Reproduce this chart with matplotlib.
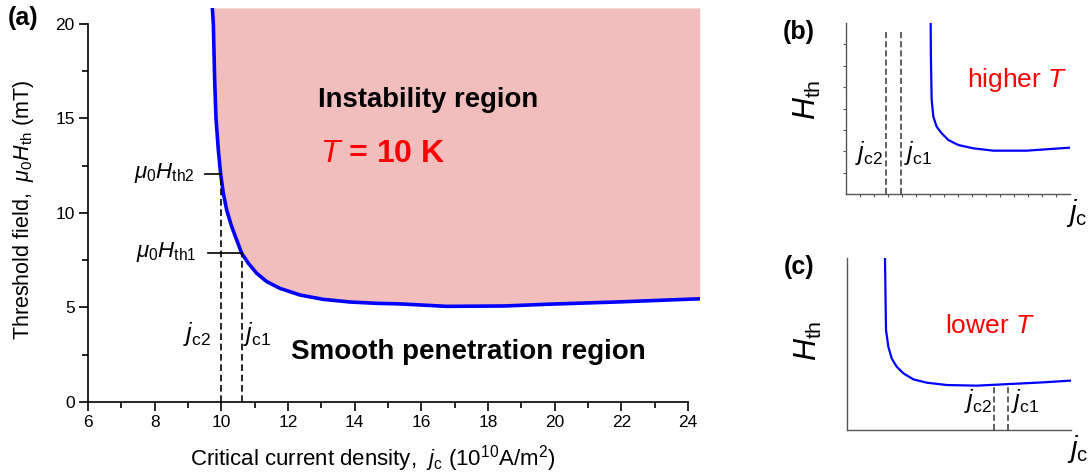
import numpy as np
import matplotlib.pyplot as plt

plt.rcParams['font.family'] = ['Liberation Sans', 'DejaVu Sans']
plt.rcParams['mathtext.fontset'] = 'custom'
plt.rcParams['mathtext.rm'] = 'Liberation Sans'
plt.rcParams['mathtext.it'] = 'Liberation Sans:italic'
plt.rcParams['mathtext.bf'] = 'Liberation Sans:bold'

# panel (a): threshold field vs critical current density, T = 10 K
jc_a = [9.73, 9.76, 9.80, 9.84, 9.91, 9.98, 10.06, 10.16, 10.31, 10.48, 10.61,
        10.81, 11.06, 11.36, 11.76, 12.36, 13.06, 13.86, 14.66, 15.36, 16.76,
        18.5, 19.76, 22.0, 24.35]
hth_a = [20.85, 20.0, 17.0, 15.0, 13.33, 12.05, 11.04, 10.16, 9.28, 8.48, 7.87,
         7.34, 6.81, 6.37, 6.01, 5.66, 5.43, 5.29, 5.22, 5.19, 5.06,
         5.08, 5.17, 5.3, 5.46]
jc_marks = [10.0, 10.61]        # jc2, jc1
hth_marks = [12.05, 7.87]       # Hth2, Hth1
mark_start = [9.51, 9.61]

# panel (b): higher T (normalised axes)
jc_b = [0.378, 0.379, 0.3824, 0.3899, 0.4048, 0.4271, 0.4568, 0.5015, 0.5685,
        0.6577, 0.8065, 1.0]
h_b = [1.0, 0.8, 0.5497, 0.452, 0.3936, 0.355, 0.3158, 0.2865, 0.267,
       0.2534, 0.2534, 0.271]
jc_marks_b = [0.177, 0.244]
top_marks_b = [0.959, 0.945]

# panel (c): lower T
jc_c = [0.1696, 0.1741, 0.1845, 0.1994, 0.2217, 0.2515, 0.2961, 0.3557, 0.4449,
        0.5789, 0.7277, 0.8765, 0.9955]
h_c = [0.998, 0.5814, 0.4845, 0.4167, 0.3682, 0.3295, 0.2946, 0.2752, 0.2616,
       0.2578, 0.2674, 0.2771, 0.2868]
jc_marks_c = [0.658, 0.72]
top_marks_c = [0.262, 0.27]

YTOP = 20.85
fig = plt.figure(figsize=(10.91, 4.76), dpi=100)

# ---- (a)
ax = fig.add_axes([88/1091, 74/476, 611.7/1091, 394.1/476])
ax.fill_between(jc_a, hth_a, YTOP, color='#F2BDBD', lw=0)
ax.plot(jc_a, hth_a, color='#0000FF', lw=2.6, solid_capstyle='round', solid_joinstyle='round')
for x, h, x0 in zip(jc_marks, hth_marks, mark_start):
    ax.plot([x, x], [0, h], color='black', lw=1.2, ls=(0, (4, 2.2)))
    ax.plot([x0, x], [h, h], color='black', lw=1.2)
ax.set_xlim(6, 24.35)
ax.set_ylim(0, YTOP)
for s in ['top', 'right']:
    ax.spines[s].set_visible(False)
ax.spines['left'].set_bounds(0, 20)
ax.spines['bottom'].set_bounds(6, 24)
for s in ['left', 'bottom']:
    ax.spines[s].set_linewidth(1.2)
ax.set_xticks(np.arange(6, 25, 2))
ax.set_xticks(np.arange(7, 24, 2), minor=True)
ax.set_yticks(np.arange(0, 21, 5))
ax.set_yticks(np.arange(2.5, 20, 5), minor=True)
ax.tick_params(which='major', direction='out', length=6.5, width=1.2, labelsize=12.5, pad=3)
ax.tick_params(which='minor', direction='out', length=4, width=1.2)
ax.set_xlabel(r'Critical current density,  $j_{\rm c}$ (10$^{10}$A/m$^2$)', fontsize=16)
ax.xaxis.set_label_coords(0.466, -0.105)
ax.set_ylabel(r'Threshold field,  $\mu_0H_{\rm th}$ (mT)', fontsize=15.5)
ax.yaxis.set_label_coords(-0.085, 0.487)

ax.text(9.22, 12.1, r'$\mu_0H_{\rm th2}$', fontsize=16, ha='right', va='center')
ax.text(9.27, 7.95, r'$\mu_0H_{\rm th1}$', fontsize=16, ha='right', va='center')
ax.text(9.68, 3.25, r'$j_{\rm c2}$', fontsize=18, ha='right', va='baseline')
ax.text(10.66, 3.25, r'$j_{\rm c1}$', fontsize=18, ha='left', va='baseline')
ax.text(12.9, 15.62, 'Instability region', fontsize=19.8, fontweight='bold', va='baseline')
ax.text(12.96, 12.72, r'$\mathit{T}$ = 10 K', fontsize=23, fontweight='bold', color='#FF0000', va='baseline')
ax.text(12.1, 2.25, 'Smooth penetration region', fontsize=20, fontweight='bold', va='baseline')
fig.text(8/1091, 1 - 18/476, '(a)', fontsize=18, fontweight='bold', va='center')


def small_panel(rect, jc, h, marks, tops, label, note, note_xy, note_ha, lab_y, lab_xy, ticks):
    a = fig.add_axes(rect)
    a.plot(jc, h, color='#0000FF', lw=1.6, solid_joinstyle='round')
    for x, t in zip(marks, tops):
        a.plot([x, x], [0, t], color='#333333', lw=1.1, ls=(0, (4, 2)))
    a.set_xlim(0, 1)
    a.set_ylim(0, 1)
    for s in ['top', 'right']:
        a.spines[s].set_visible(False)
    for s in ['left', 'bottom']:
        a.spines[s].set_color('#555555')
        a.spines[s].set_linewidth(1.0)
    if ticks:
        a.set_xticks(np.arange(0.0625, 1, 0.0625))
        a.set_yticks(np.arange(0.125, 1, 0.125))
        a.tick_params(direction='out', length=2, width=0.8, color='#555555',
                      labelbottom=False, labelleft=False)
    else:
        a.set_xticks([])
        a.set_yticks([])
    a.text(marks[0] - 0.01, lab_y, r'$j_{\rm c2}$', fontsize=18, ha='right', va='baseline')
    a.text(marks[1] + 0.013, lab_y, r'$j_{\rm c1}$', fontsize=18, ha='left', va='baseline')
    a.text(note_xy[0], note_xy[1], note, fontsize=19, color='#FF0000', ha=note_ha, va='baseline')
    a.text(-0.17, lab_xy, r'$H_{\rm th}$', fontsize=22, rotation=90, ha='center', va='center',
           transform=a.transAxes)
    a.text(1.03, -0.11, r'$j_{\rm c}$', fontsize=21, ha='center', va='center', transform=a.transAxes)
    fig.text(rect[0] - 63/1091, rect[1] + rect[3] - 9/476, label, fontsize=18, fontweight='bold',
             va='center')
    return a


small_panel([846/1091, 282/476, 224/1091, 171/476], jc_b, h_b, jc_marks_b, top_marks_b,
            '(b)', r'higher $T$', (0.99, 0.626), 'right', 0.2, 0.55, True)
small_panel([847/1091, 46/476, 224/1091, 172/476], jc_c, h_c, jc_marks_c, top_marks_c,
            '(c)', r'lower $T$', (0.4375, 0.562), 'left', 0.128, 0.52, False)

fig.savefig('out.png', dpi=100)
